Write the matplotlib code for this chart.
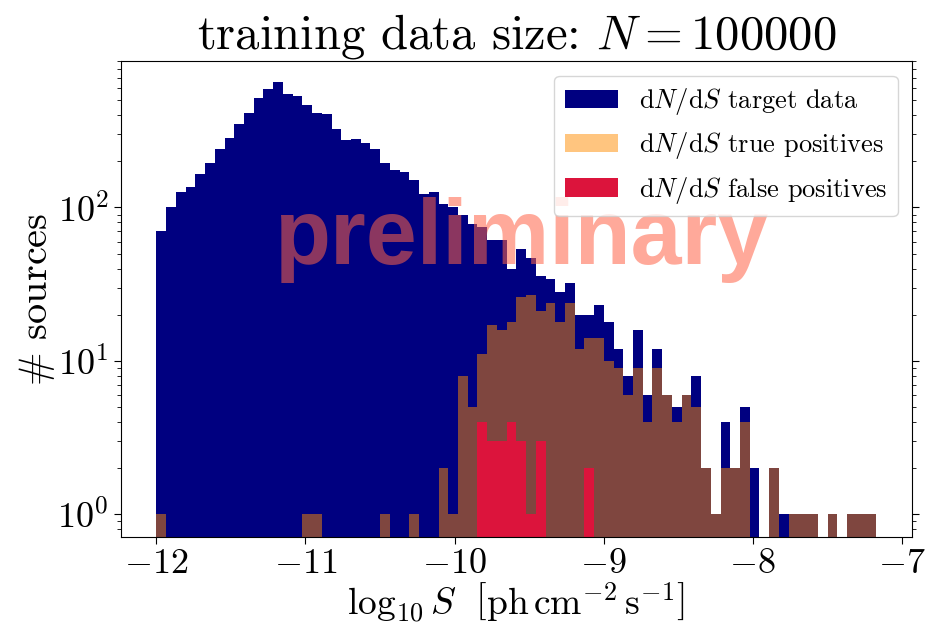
import matplotlib
matplotlib.use("Agg")
import matplotlib.pyplot as plt
import numpy as np

# Font setup, imitating the LaTeX look
plt.rcParams["font.family"] = "serif"
plt.rcParams["font.serif"] = ["cmr10"]
plt.rcParams["mathtext.fontset"] = "cm"
plt.rcParams["axes.formatter.use_mathtext"] = True
plt.rcParams["axes.unicode_minus"] = True

# Histogram binning of log10 S (74 equal bins)
binLow = -12.0
binHigh = -7.17
nBins = 74

# Counts per bin
targetCounts = [70, 101, 127, 137, 165, 194, 239, 282, 349, 411,
                515, 589, 655, 547, 531, 464, 416, 405, 323, 274,
                279, 262, 239, 194, 175, 170, 150, 123, 126, 105,
                100, 90, 78, 75, 61, 61, 40, 54, 47, 36,
                34, 28, 32, 20, 20, 23, 18, 12, 8, 16,
                6, 12, 6, 5, 6, 8, 2, 1, 4, 2,
                5, 2, 0, 2, 1, 1, 1, 1, 0, 1,
                0, 1, 1, 1]
truePosCounts = [1, 0, 0, 0, 0, 0, 0, 0, 0, 0,
                 0, 0, 0, 0, 0, 1, 1, 0, 0, 0,
                 0, 0, 0, 1, 0, 0, 1, 0, 0, 2,
                 1, 8, 5, 11, 17, 16, 18, 26, 27, 21,
                 24, 18, 24, 12, 14, 14, 10, 9, 6, 9,
                 4, 9, 6, 4, 6, 5, 2, 1, 2, 2,
                 4, 0, 0, 2, 0, 1, 1, 1, 0, 1,
                 0, 1, 1, 1]
falsePosCounts = [0] * 33 + [4, 3, 3, 4, 3, 1, 3, 0, 0, 0, 0, 2] + [0] * 29

labels = [r"$\mathrm{d}N/\mathrm{d}S$ target data",
          r"$\mathrm{d}N/\mathrm{d}S$ true positives",
          r"$\mathrm{d}N/\mathrm{d}S$ false positives"]

edges = np.linspace(binLow, binHigh, nBins + 1)
centres = 0.5 * (edges[:-1] + edges[1:])

fig = plt.figure(figsize=(9.27, 6.34), dpi=100)
ax = fig.add_axes([0.130, 0.1535, 0.854, 0.750])

ax.hist(centres, bins=edges, weights=targetCounts, color="navy", log=True, label=labels[0])
ax.hist(centres, bins=edges, weights=truePosCounts, color="darkorange", alpha=0.5, log=True, label=labels[1])
ax.hist(centres, bins=edges, weights=falsePosCounts, color="crimson", log=True, label=labels[2])

ax.set_xlim(-12.2415, -6.9285)
ax.set_ylim(0.713, 900)
ax.set_xticks([-12, -11, -10, -9, -8, -7])

ax.set_title(r"training data size: $N = 100000$", fontsize=35, pad=5)
ax.set_xlabel(r"$\log_{10} S\ \ \left[\mathrm{ph\,cm^{-2}\,s^{-1}}\right]$", fontsize=27, labelpad=0)
ax.set_ylabel(r"$\#$ sources", fontsize=29, labelpad=0)

ax.tick_params(axis="both", which="major", labelsize=26, length=5)
ax.tick_params(axis="y", which="both", right=True)
ax.tick_params(axis="y", which="minor", length=3)

# Watermark
ax.text(0.5075, 0.624, "preliminary", transform=ax.transAxes, ha="center", va="center",
        fontsize=66, fontweight="bold", family="Liberation Sans", color="tomato", alpha=0.55)

ax.legend(loc="upper right", fontsize=19, handlelength=2.0, borderaxespad=0.55)

fig.savefig("out.png", dpi=100)
